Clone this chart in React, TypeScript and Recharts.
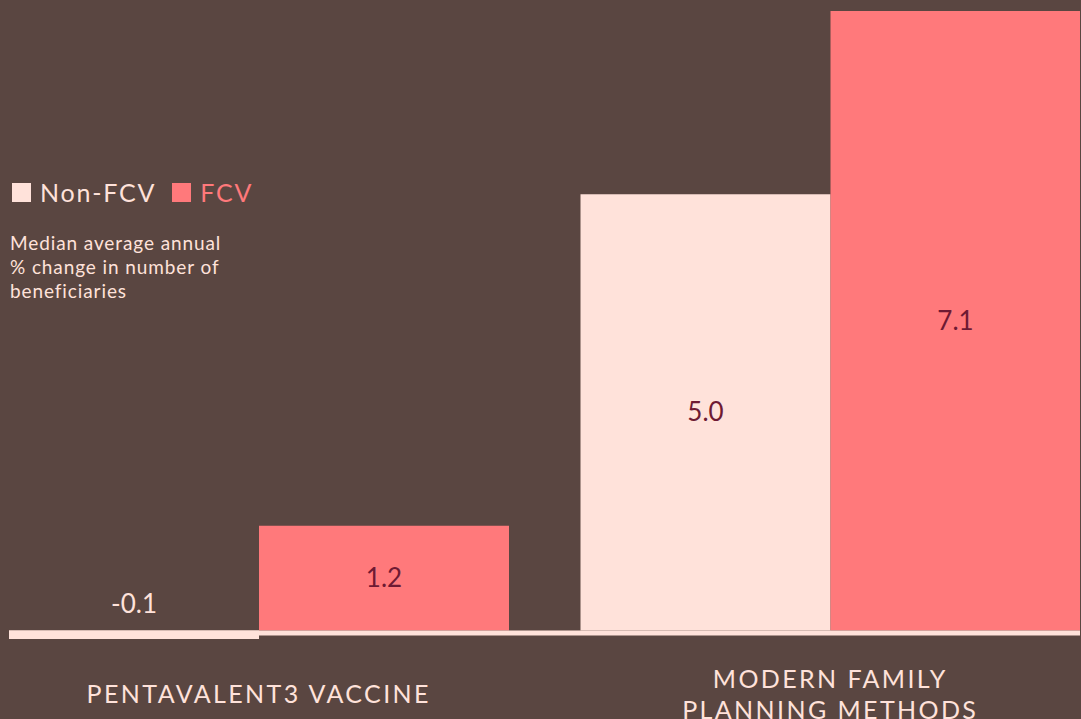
import React from 'react';
import { BarChart, Bar, XAxis, YAxis, ReferenceLine, LabelList } from 'recharts';

const categories = ['PENTAVALENT3 VACCINE', 'MODERN FAMILY\nPLANNING METHODS'];
const nonFcvValues = [-0.1, 5.0];
const fcvValues = [1.2, 7.1];
const seriesNames = ['Non-FCV', 'FCV'];
const subtitleLines = ['Median average annual', '% change in number of', 'beneficiaries'];

const BG = '#5a4641';
const LIGHT = '#ffe2da';
const CORAL = '#ff797b';
const DARK = '#6e1a33';
const FONT = 'Lato, "Noto Sans", sans-serif';

const data = categories.map((name, i) => ({
  name,
  nonFcv: nonFcvValues[i],
  fcv: fcvValues[i],
}));

const CategoryTick = (props: any) => {
  const { x, y, payload } = props;
  const lines = String(payload.value).split('\n');
  const center = y + 12;
  return (
    <g>
      {lines.map((line, i) => (
        <text
          key={i}
          x={x}
          y={center + (i - (lines.length - 1) / 2) * 31 + 9}
          textAnchor="middle"
          fill={LIGHT}
          fontSize={25}
          letterSpacing={2.4}
          fontFamily={FONT}
        >
          {line}
        </text>
      ))}
    </g>
  );
};

const ValueLabel = (props: any) => {
  const { x, y, width, height, value } = props;
  const v = Number(value);
  const zeroY = v < 0 ? Math.min(y, y + height) : y + height;
  const cy = v < 0 ? zeroY - 26 : y + height / 2;
  return (
    <text
      x={x + width / 2}
      y={cy + 9}
      textAnchor="middle"
      fill={v < 0 ? LIGHT : DARK}
      fontSize={26}
      fontFamily={FONT}
    >
      {v.toFixed(1)}
    </text>
  );
};

const Baseline = (props: any) => (
  <line
    x1={props.x1}
    y1={props.y1 + 2.5}
    x2={props.x2}
    y2={props.y2 + 2.5}
    stroke={LIGHT}
    strokeWidth={5}
  />
);

export default function App() {
  return (
    <div
      style={{
        position: 'fixed',
        left: 0,
        top: 0,
        width: 1081,
        height: 719,
        background: BG,
        overflow: 'hidden',
        fontFamily: FONT,
      }}
    >
      <div style={{ position: 'absolute', left: 9, top: 0, width: 1071, height: 719, overflow: 'hidden' }}>
        <BarChart
          width={1071}
          height={719}
          data={data}
          margin={{ top: 11, right: -36, left: -36, bottom: 0 }}
          barSize={250}
          barGap={0}
        >
          <XAxis
            dataKey="name"
            axisLine={false}
            tickLine={false}
            height={45}
            interval={0}
            tick={<CategoryTick />}
          />
          <YAxis hide domain={[-0.5, 7.1]} />
          <Bar dataKey="nonFcv" fill={LIGHT} isAnimationActive={false}>
            <LabelList dataKey="nonFcv" content={<ValueLabel />} />
          </Bar>
          <Bar dataKey="fcv" fill={CORAL} isAnimationActive={false}>
            <LabelList dataKey="fcv" content={<ValueLabel />} />
          </Bar>
          <ReferenceLine y={0} shape={<Baseline />} />
        </BarChart>
      </div>

      <div style={{ position: 'absolute', left: 12, top: 177, display: 'flex', alignItems: 'center', fontSize: 25 }}>
        <span style={{ width: 19, height: 19, background: LIGHT, display: 'inline-block', marginRight: 9 }} />
        <span style={{ color: LIGHT, letterSpacing: 1.8 }}>{seriesNames[0]}</span>
        <span style={{ width: 19, height: 19, background: CORAL, display: 'inline-block', marginLeft: 16, marginRight: 9 }} />
        <span style={{ color: CORAL, letterSpacing: 1.8 }}>{seriesNames[1]}</span>
      </div>

      <div
        style={{
          position: 'absolute',
          left: 10,
          top: 231,
          color: LIGHT,
          fontSize: 19,
          lineHeight: '24px',
          letterSpacing: 0.9,
        }}
      >
        {subtitleLines.map((l, i) => (
          <div key={i}>{l}</div>
        ))}
      </div>
    </div>
  );
}
